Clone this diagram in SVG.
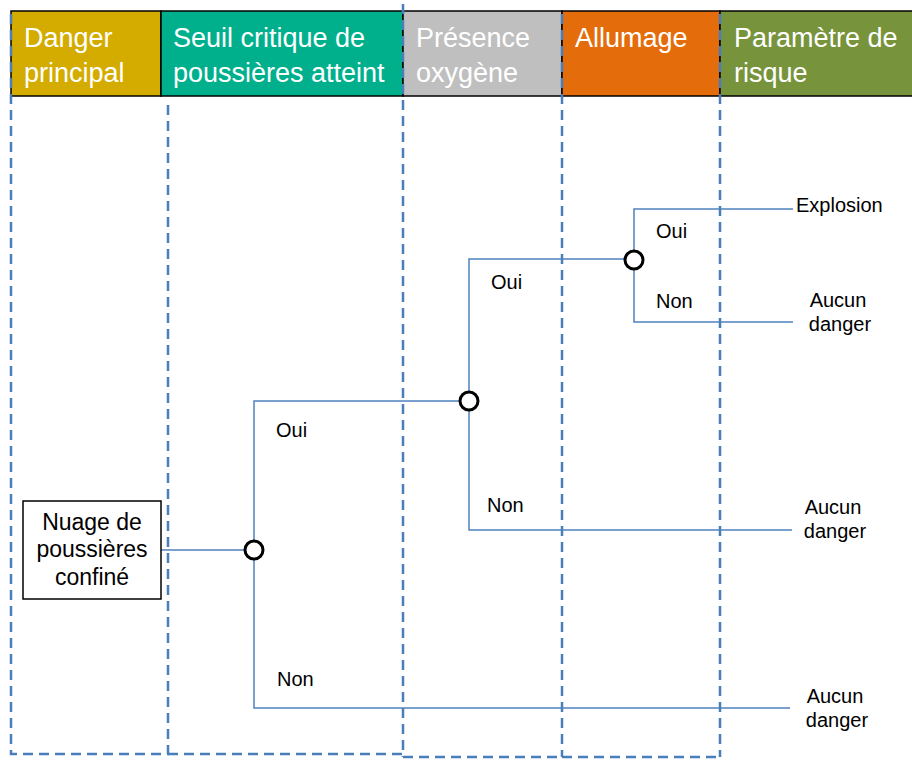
<svg xmlns="http://www.w3.org/2000/svg" width="912" height="760" viewBox="0 0 912 760">
<style>
.hdr{stroke:#000;stroke-width:1.5}
.ht{font-family:"Liberation Sans",Arial,sans-serif;font-size:27px;fill:#fff}
.dash{fill:none;stroke:#4A7EBB;stroke-width:2.5;stroke-dasharray:10 6}
.con{fill:none;stroke:#4F81BD;stroke-width:1.5}
.node{fill:#fff;stroke:#000;stroke-width:3}
.lbl{font-family:"Liberation Sans",Arial,sans-serif;font-size:20px;fill:#000}
.box{fill:#fff;stroke:#000;stroke-width:1.5}
.bt{font-family:"Liberation Sans",Arial,sans-serif;font-size:23px;fill:#000;text-anchor:middle}
</style>
<rect width="912" height="760" fill="#fff"/>
<g id="header">
<g id="h-danger"><rect class="hdr" x="11" y="11" width="150" height="85" fill="#D4AC00"/><text class="ht" x="24" y="47">Danger</text><text class="ht" x="24" y="82">principal</text></g>
<g id="h-seuil"><rect class="hdr" x="161" y="11" width="242" height="85" fill="#00B08D"/><text class="ht" x="173" y="47">Seuil critique de</text><text class="ht" x="173" y="82">poussières atteint</text></g>
<g id="h-presence"><rect class="hdr" x="403" y="11" width="159" height="85" fill="#BFBFBF"/><text class="ht" x="416" y="47">Présence</text><text class="ht" x="416" y="82">oxygène</text></g>
<g id="h-allumage"><rect class="hdr" x="562" y="11" width="158" height="85" fill="#E46C0A"/><text class="ht" x="575" y="47">Allumage</text></g>
<g id="h-param"><rect class="hdr" x="720" y="11" width="194" height="85" fill="#77933C"/><text class="ht" x="734" y="47">Paramètre de</text><text class="ht" x="734" y="82">risque</text></g>
</g>
<g id="swimlanes">
<path class="dash" d="M11 14 V754 H168 V100"/>
<path class="dash" d="M168 754 H403 M403 4 V757 M403 757 H562 M562 14 V757 M562 757 H720 M720 14 V757"/>
</g>
<g id="connectors">
<path class="con" d="M161 550 H254"/>
<path class="con" d="M790 708 H254 V401 H469"/>
<path class="con" d="M792 530 H469 V259 H634"/>
<path class="con" d="M793 322 H634 V209 H793"/>
</g>
<g id="n-nuage"><rect class="box" x="23" y="501" width="138" height="98"/><text class="bt" x="92" y="530">Nuage de</text><text class="bt" x="92" y="557">poussières</text><text class="bt" x="92" y="585">confiné</text></g>
<g id="c1"><circle class="node" cx="254" cy="550" r="9"/></g>
<g id="c2"><circle class="node" cx="469" cy="401" r="9"/></g>
<g id="c3"><circle class="node" cx="634" cy="260" r="9"/></g>
<g id="labels">
<text class="lbl" x="276" y="437">Oui</text>
<text class="lbl" x="277" y="686">Non</text>
<text class="lbl" x="491" y="289">Oui</text>
<text class="lbl" x="487" y="512">Non</text>
<text class="lbl" x="656" y="238">Oui</text>
<text class="lbl" x="656" y="308">Non</text>
</g>
<g id="o-explosion"><text class="lbl" x="796" y="212">Explosion</text></g>
<g id="o-aucun1"><text class="lbl" x="838" y="307" text-anchor="middle">Aucun</text><text class="lbl" x="840" y="331" text-anchor="middle">danger</text></g>
<g id="o-aucun2"><text class="lbl" x="833" y="514" text-anchor="middle">Aucun</text><text class="lbl" x="835" y="538" text-anchor="middle">danger</text></g>
<g id="o-aucun3"><text class="lbl" x="835" y="703" text-anchor="middle">Aucun</text><text class="lbl" x="837" y="727" text-anchor="middle">danger</text></g>
</svg>
